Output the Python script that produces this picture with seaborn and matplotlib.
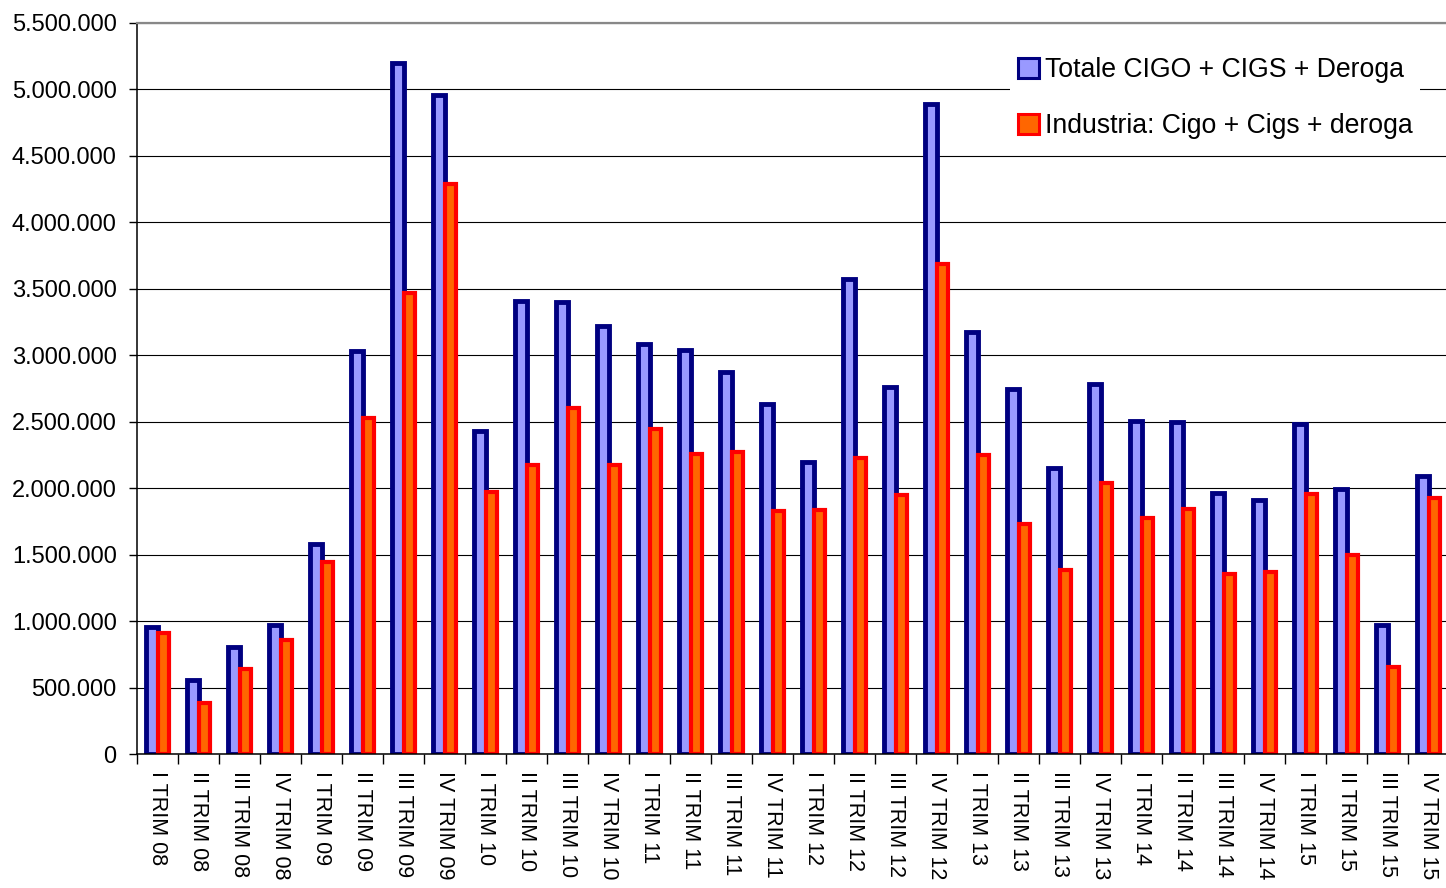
import numpy as np
import pandas as pd
import matplotlib
matplotlib.use("Agg")
import matplotlib.pyplot as plt
import seaborn as sns
from matplotlib.patches import Patch
from matplotlib.ticker import FuncFormatter

# ---------------- data ----------------
trimestri = [
    "I TRIM 08", "II TRIM 08", "III TRIM 08", "IV TRIM 08",
    "I TRIM 09", "II TRIM 09", "III TRIM 09", "IV TRIM 09",
    "I TRIM 10", "II TRIM 10", "III TRIM 10", "IV TRIM 10",
    "I TRIM 11", "II TRIM 11", "III TRIM 11", "IV TRIM 11",
    "I TRIM 12", "II TRIM 12", "III TRIM 12", "IV TRIM 12",
    "I TRIM 13", "II TRIM 13", "III TRIM 13", "IV TRIM 13",
    "I TRIM 14", "II TRIM 14", "III TRIM 14", "IV TRIM 14",
    "I TRIM 15", "II TRIM 15", "III TRIM 15", "IV TRIM 15",
]
totale = [
    959000, 555000, 803000, 974000,
    1582000, 3032000, 5199000, 4958000,
    2430000, 3412000, 3401000, 3224000,
    3083000, 3040000, 2874000, 2631000,
    2197000, 3575000, 2761000, 4892000,
    3173000, 2746000, 2149000, 2784000,
    2505000, 2498000, 1966000, 1913000,
    2483000, 1996000, 974000, 2094000,
]
industria = [
    909000, 382000, 636000, 859000,
    1447000, 2528000, 3472000, 4288000,
    1971000, 2174000, 2601000, 2177000,
    2443000, 2257000, 2270000, 1825000,
    1833000, 2227000, 1946000, 3683000,
    2249000, 1730000, 1386000, 2041000,
    1773000, 1840000, 1351000, 1371000,
    1956000, 1496000, 658000, 1923000,
]
serie = ["Totale CIGO + CIGS + Deroga", "Industria: Cigo + Cigs + deroga"]
y_ticks = list(range(0, 5500001, 500000))

# ---------------- style ----------------
fill_colors = ["#9999FF", "#FF6600"]
edge_colors = ["#000080", "#FF0000"]
edge_widths = [3.5, 3.0]

sns.set_theme(style="white")
plt.rcParams["font.family"] = ["Liberation Sans", "DejaVu Sans"]

n = len(trimestri)
df = pd.DataFrame({
    "trim": trimestri * 2,
    "valore": totale + industria,
    "serie": [serie[0]] * n + [serie[1]] * n,
})

W, H = 1446, 888
fig = plt.figure(figsize=(W / 100, H / 100), dpi=100)
fig.patch.set_facecolor("white")
ax = fig.add_axes([137 / W, 1 - 754 / H, (1449 - 137) / W, (754 - 23) / H])

sns.barplot(data=df, x="trim", y="valore", hue="serie", order=trimestri,
            hue_order=serie, palette=fill_colors, saturation=1, width=0.58,
            errorbar=None, legend=False, ax=ax)

for cont, ec, lw in zip(ax.containers, edge_colors, edge_widths):
    for p in cont:
        p.set_edgecolor(ec)
        p.set_linewidth(lw)

# axes
ax.set_xlim(-0.5, n - 0.5)
ax.set_ylim(0, 5500000)
ax.set_yticks(y_ticks)
ax.yaxis.set_major_formatter(FuncFormatter(lambda v, p: f"{int(v):,}".replace(",", ".")))
ax.set_xlabel("")
ax.set_ylabel("")

ax.set_axisbelow(True)
ax.yaxis.grid(True, color="black", linewidth=0.8)
ax.xaxis.grid(False)

for s in ["left", "bottom"]:
    ax.spines[s].set_color("black")
    ax.spines[s].set_linewidth(1.1)
ax.spines["right"].set_visible(False)
ax.spines["top"].set_color("#888888")
ax.spines["top"].set_linewidth(1.6)

ax.tick_params(axis="y", which="major", direction="out", length=6, width=1,
               color="black", pad=8.6, labelsize=17, labelcolor="black", left=True)
ax.set_xticks(np.arange(-0.5, n, 1), minor=True)
ax.tick_params(axis="x", which="minor", direction="out", length=7, width=1,
               color="black", bottom=True)
ax.tick_params(axis="x", which="major", length=0, pad=12, labelsize=15.5,
               labelcolor="black", labelrotation=270)
for lab in ax.get_xticklabels():
    lab.set_ha("center")
    lab.set_va("top")

# legend
handles = [Patch(facecolor=fc, edgecolor=ec, linewidth=2.2)
           for fc, ec in zip(fill_colors, edge_colors)]
leg = ax.legend(handles, serie, loc="upper left",
                bbox_to_anchor=(1010 / W, 1 - 49 / H), bbox_transform=fig.transFigure,
                fontsize=19.2, frameon=True, framealpha=1, facecolor="white",
                edgecolor="white", fancybox=False, borderpad=0.3,
                borderaxespad=0, labelspacing=1.13, handlelength=0.8,
                handleheight=0.8, handletextpad=0.2)
leg.get_frame().set_linewidth(0)
for t in leg.get_texts():
    t.set_color("black")

fig.savefig("out.png", dpi=100, facecolor="white")
